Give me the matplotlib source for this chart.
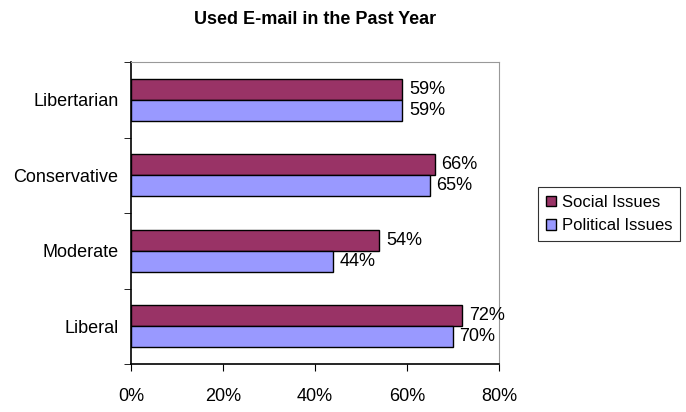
import numpy as np
import matplotlib.pyplot as plt

plt.rcParams['font.family'] = ['Liberation Sans', 'DejaVu Sans']

categories = ['Liberal', 'Moderate', 'Conservative', 'Libertarian']
social = [72, 54, 66, 59]
political = [70, 44, 65, 59]

fig = plt.figure(figsize=(6.86, 4.12), dpi=100)
ax = fig.add_axes([131 / 686, 1 - 364 / 412, 368 / 686, 302 / 412])

y = np.arange(len(categories))
h = 0.28
b1 = ax.barh(y + h / 2, social, height=h, color='#993366', edgecolor='black',
             linewidth=1, label='Social Issues')
b2 = ax.barh(y - h / 2, political, height=h, color='#9999FF', edgecolor='black',
             linewidth=1, label='Political Issues')

for bars, vals in ((b1, social), (b2, political)):
    for bar, v in zip(bars, vals):
        ax.text(v + 1.4, bar.get_y() + bar.get_height() / 2, f'{v}%',
                va='center', ha='left', fontsize=13)

ax.set_xlim(0, 80)
ax.set_ylim(-0.5, 3.5)
ax.set_xticks([0, 20, 40, 60, 80])
ax.set_xticklabels([f'{t}%' for t in [0, 20, 40, 60, 80]], fontsize=13)
ax.set_yticks(y)
ax.set_yticklabels(categories, fontsize=13)
ax.set_yticks(np.arange(-0.5, 4, 1), minor=True)
ax.tick_params(axis='y', which='major', length=0, pad=9)
ax.tick_params(axis='y', which='minor', length=5, direction='out')
ax.tick_params(axis='x', length=5, direction='out', pad=12)

for s in ('top', 'right'):
    ax.spines[s].set_color('#999999')
for s in ('left', 'bottom'):
    ax.spines[s].set_color('black')
    ax.spines[s].set_linewidth(1.2)

fig.text(315 / 686, 1 - 20 / 412, 'Used E-mail in the Past Year',
         ha='center', va='center', fontsize=13, fontweight='bold')

leg = fig.legend(handles=[b1, b2], loc='center left',
                 bbox_to_anchor=(538 / 686, 1 - 214 / 412), fontsize=12,
                 frameon=True, fancybox=False, edgecolor='black',
                 handlelength=0.6, handleheight=0.6, handletextpad=0.4,
                 borderpad=0.45, labelspacing=0.5, borderaxespad=0)
leg.get_frame().set_linewidth(0.8)

fig.savefig('out.png', dpi=100)
